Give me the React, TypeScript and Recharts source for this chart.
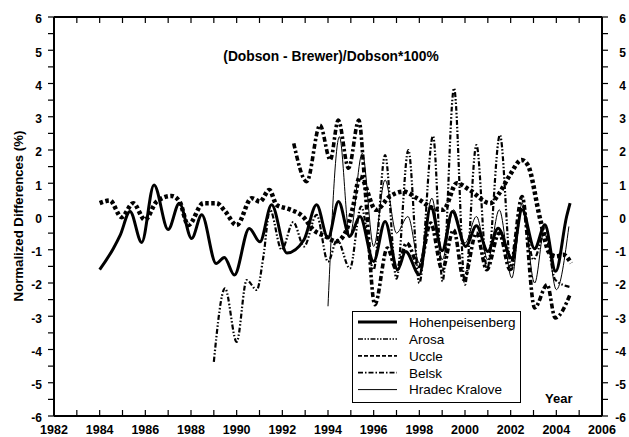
import { LineChart, Line, XAxis, YAxis, Legend, Customized } from "recharts";

const FONT = '"Liberation Sans", Arial, Helvetica, sans-serif';

const yearTicks = [
  1982, 1983, 1984, 1985, 1986, 1987, 1988, 1989, 1990, 1991, 1992, 1993, 1994,
  1995, 1996, 1997, 1998, 1999, 2000, 2001, 2002, 2003, 2004, 2005, 2006,
];
const valueTicks = [
  -6, -5.5, -5, -4.5, -4, -3.5, -3, -2.5, -2, -1.5, -1, -0.5, 0, 0.5, 1, 1.5, 2,
  2.5, 3, 3.5, 4, 4.5, 5, 5.5, 6,
];

// Hohenpeisenberg
const hohenYears = [
  1984.0, 1984.6, 1984.9, 1985.33, 1985.84, 1986.38, 1987.0, 1987.49, 1988.03,
  1988.47, 1989.1, 1989.46, 1989.9, 1990.55, 1991.02, 1991.53, 1992.2, 1992.95,
  1993.5, 1994.0, 1994.46, 1994.95, 1995.4, 1996.0, 1996.5, 1997.05, 1997.4,
  1998.0, 1998.5, 1999.0, 1999.45, 2000.03, 2000.5, 2001.0, 2001.45, 2002.05,
  2002.5, 2003.05, 2003.5, 2003.97, 2004.45, 2004.6,
];
const hohenValues = [
  -1.6, -0.96, -0.56, 0.15, -0.78, 0.95, -0.39, 0.4, -0.66, 0.05, -1.41, -1.23,
  -1.76, -0.36, -0.76, 0.35, -1.1, -0.7, 0.35, -0.65, 0.45, -0.6, 0.0, -1.35,
  -0.15, -1.6, -1.05, -1.75, 0.3, -1.03, 0.15, -0.9, -0.28, -1.05, -0.35, -1.25,
  0.2, -0.97, -0.25, -1.65, 0.0, 0.4,
];

// Arosa
const arosaYears = [
  1989.0, 1989.49, 1990.0, 1990.44, 1990.88, 1991.17, 1991.46, 1991.97, 1992.48,
  1992.95, 1993.5, 1994.0, 1994.4, 1994.96, 1995.45, 1996.0, 1996.5, 1997.0,
  1997.52, 1998.0, 1998.6, 1999.02, 1999.52, 2000.0, 2000.5, 2000.97, 2001.53,
  2002.03, 2002.5, 2003.0, 2003.5, 2003.95, 2004.6,
];
const arosaValues = [
  -4.37, -2.16, -3.77, -1.91, -2.21, -1.21, 0.2, -1.0, -0.17, -0.9, 0.05, -1.36,
  -0.7, -1.56, 0.3, -1.6, 1.85, -1.87, 2.0, -2.0, 2.42, -1.95, 3.86, -2.05, 2.15,
  -1.6, 2.45, -1.6, 0.3, -1.3, -0.5, -1.9, -2.12,
];

// Uccle
const uccleYears = [
  1984.0, 1984.45, 1984.96, 1985.47, 1985.98, 1986.5, 1987.15, 1987.5, 1987.88,
  1988.54, 1989.12, 1989.5, 1990.0, 1990.66, 1991.02, 1991.43, 1991.75, 1992.3,
  1992.9, 1993.36, 1993.9, 1994.35, 1994.75, 1995.1, 1995.4, 1996.1, 1996.7,
  1997.3, 1997.9, 1998.6, 1999.05, 1999.64, 2000.2, 2001.1, 2001.5, 2001.97,
  2002.48, 2002.75, 2003.3, 2003.7, 2004.0, 2004.3, 2004.65,
];
const uccleValues = [
  0.4, 0.48, -0.02, 0.4, -0.1, 0.45, 0.62, 0.45, -0.26, 0.4, 0.4, 0.15, -0.26,
  0.55, 0.45, 0.8, 0.35, 0.22, 0.0, -0.4, -0.6, -0.75, -0.5, 0.3, 1.2, 0.2, 0.6,
  0.75, 0.55, 0.25, 0.2, 1.0, 0.8, 0.4, 0.7, 1.25, 1.7, 1.55, -0.1, -1.1, -1.2,
  -1.15, -1.4,
];

// Belsk
const belskYears = [
  1992.5, 1993.07, 1993.65, 1994.1, 1994.45, 1994.9, 1995.35, 1995.65, 1996.05,
  1996.6, 1997.0, 1997.45, 1998.0, 1998.5, 1999.0, 1999.5, 1999.95, 2000.5,
  2000.95, 2001.5, 2001.97, 2002.5, 2003.05, 2003.6, 2003.95, 2004.6,
];
const belskValues = [
  2.2, 1.05, 2.75, 1.7, 2.9, 1.45, 2.9, 0.6, -2.65, -0.95, -1.6, -0.8, -1.5, -0.2,
  -1.6, -0.4, -1.9, -0.5, -1.6, -0.5, -1.6, 0.6, -2.75, -2.05, -3.05, -2.35,
];

// Hradec Kralove
const hradecYears = [
  1994.0, 1994.5, 1994.95, 1995.5, 1996.0, 1996.5, 1997.0, 1997.5, 1998.0,
  1998.55, 1999.0, 1999.5, 2000.0, 2000.5, 2001.0, 2001.5, 2002.05, 2002.5,
  2003.05, 2003.5, 2004.0, 2004.55,
];
const hradecValues = [
  -2.7, 2.4, -0.6, 1.9, -0.9, 1.1, -0.5, 0.0, -1.4, 0.55, -1.3, 0.2, -0.8, 0.0,
  -1.3, 0.2, -1.85, 0.4, -2.0, -0.3, -2.2, -0.3,
];

const toPoints = (years: number[], values: number[]) =>
  years.map((year, i) => ({ year, value: values[i] }));

const series = [
  {
    name: "Hohenpeisenberg",
    data: toPoints(hohenYears, hohenValues),
    width: 3,
    dash: undefined,
    legendWidth: 3,
    legendDash: undefined,
  },
  {
    name: "Arosa",
    data: toPoints(arosaYears, arosaValues),
    width: 2.2,
    dash: "5 2 1.5 2 1.5 2",
    legendWidth: 1.5,
    legendDash: "5 1.5 1.5 1.5 1.5 1.5",
  },
  {
    name: "Uccle",
    data: toPoints(uccleYears, uccleValues),
    width: 4.5,
    dash: "3.5 2.5",
    legendWidth: 1.8,
    legendDash: "4 2",
  },
  {
    name: "Belsk",
    data: toPoints(belskYears, belskValues),
    width: 3.6,
    dash: "5 2.5 2.5 2.5",
    legendWidth: 1.8,
    legendDash: "5 2 1.5 2",
  },
  {
    name: "Hradec Kralove",
    data: toPoints(hradecYears, hradecValues),
    width: 1,
    dash: undefined,
    legendWidth: 1,
    legendDash: undefined,
  },
];

function BottomTick({ x, y, payload }: any) {
  if (payload.value % 2 !== 0) return <g />;
  return (
    <text x={x} y={y} dy="0.71em" textAnchor="middle" fontFamily={FONT} fontSize={12.5} fontWeight="bold" fill="#000">
      {payload.value}
    </text>
  );
}

function EmptyTick() {
  return <g />;
}

function LeftTick({ x, y, payload }: any) {
  if (!Number.isInteger(payload.value)) return <g />;
  return (
    <text x={x} y={y + 6.3} textAnchor="end" fontFamily={FONT} fontSize={12} fontWeight="bold" fill="#000">
      {payload.value}
    </text>
  );
}

function RightTick({ x, y, payload }: any) {
  if (!Number.isInteger(payload.value)) return <g />;
  return (
    <text x={x + 18} y={y + 6.3} textAnchor="end" fontFamily={FONT} fontSize={12} fontWeight="bold" fill="#000">
      {payload.value}
    </text>
  );
}

function Labels() {
  return (
    <g fontFamily={FONT} fontWeight="bold" fill="#000">
      <text x={331} y={61} textAnchor="middle" fontSize={13.8}>
        (Dobson - Brewer)/Dobson*100%
      </text>
      <text x={545} y={403} fontSize={13}>
        Year
      </text>
      <text x={23} y={216} textAnchor="middle" fontSize={13.2} transform="rotate(-90 23 216)">
        Normalized Differences (%)
      </text>
    </g>
  );
}

function LegendBox() {
  return (
    <svg width={170} height={93} style={{ display: "block" }}>
      <rect x={0.5} y={0.5} width={168} height={91} fill="#fff" stroke="#000" strokeWidth={1} />
      {series.map((s, i) => {
        const cy = 11 + i * 16.9;
        return (
          <g key={s.name}>
            <line x1={6} x2={45} y1={cy} y2={cy} stroke="#000" strokeWidth={s.legendWidth} strokeDasharray={s.legendDash} />
            <text x={57} y={cy + 4.8} fontFamily={FONT} fontSize={13.5} fill="#000">
              {s.name}
            </text>
          </g>
        );
      })}
    </svg>
  );
}

const axisLine = { stroke: "#000", strokeWidth: 2 };
const tickLine = { stroke: "#000", strokeWidth: 1.2 };

export default function App() {
  return (
    <div style={{ position: "absolute", left: 0, top: 0, width: 629, height: 437, background: "#fff" }}>
      <LineChart width={629} height={437} margin={{ top: 16, right: 0, bottom: 0, left: 0 }}>
        <XAxis
          xAxisId="bottom"
          type="number"
          dataKey="year"
          domain={[1982, 2006]}
          ticks={yearTicks}
          interval={0}
          height={21}
          tickSize={-6}
          tickMargin={15}
          tick={<BottomTick />}
          axisLine={axisLine}
          tickLine={tickLine}
          allowDataOverflow
        />
        <XAxis
          xAxisId="top"
          orientation="top"
          type="number"
          dataKey="year"
          domain={[1982, 2006]}
          ticks={yearTicks}
          interval={0}
          height={1}
          tickSize={-6}
          tick={<EmptyTick />}
          axisLine={axisLine}
          tickLine={tickLine}
          allowDataOverflow
        />
        <YAxis
          yAxisId="left"
          type="number"
          domain={[-6, 6]}
          ticks={valueTicks}
          interval={0}
          width={54}
          tickSize={6}
          tickMargin={6}
          tick={<LeftTick />}
          axisLine={axisLine}
          tickLine={tickLine}
          allowDataOverflow
        />
        <YAxis
          yAxisId="right"
          orientation="right"
          type="number"
          domain={[-6, 6]}
          ticks={valueTicks}
          interval={0}
          width={27}
          tickSize={6}
          tickMargin={0}
          tick={<RightTick />}
          axisLine={axisLine}
          tickLine={tickLine}
          allowDataOverflow
        />
        {series.map((s) => (
          <Line
            key={s.name}
            xAxisId="bottom"
            yAxisId="left"
            data={s.data}
            dataKey="value"
            name={s.name}
            type="monotone"
            stroke="#000"
            strokeWidth={s.width}
            strokeDasharray={s.dash}
            dot={false}
            activeDot={false}
            isAnimationActive={false}
          />
        ))}
        <Customized component={<Labels />} />
        <Legend
          layout="horizontal"
          verticalAlign="middle"
          align="center"
          content={<LegendBox />}
          wrapperStyle={{ position: "absolute", left: 352, top: 311, width: 170, height: 93 }}
        />
      </LineChart>
    </div>
  );
}
